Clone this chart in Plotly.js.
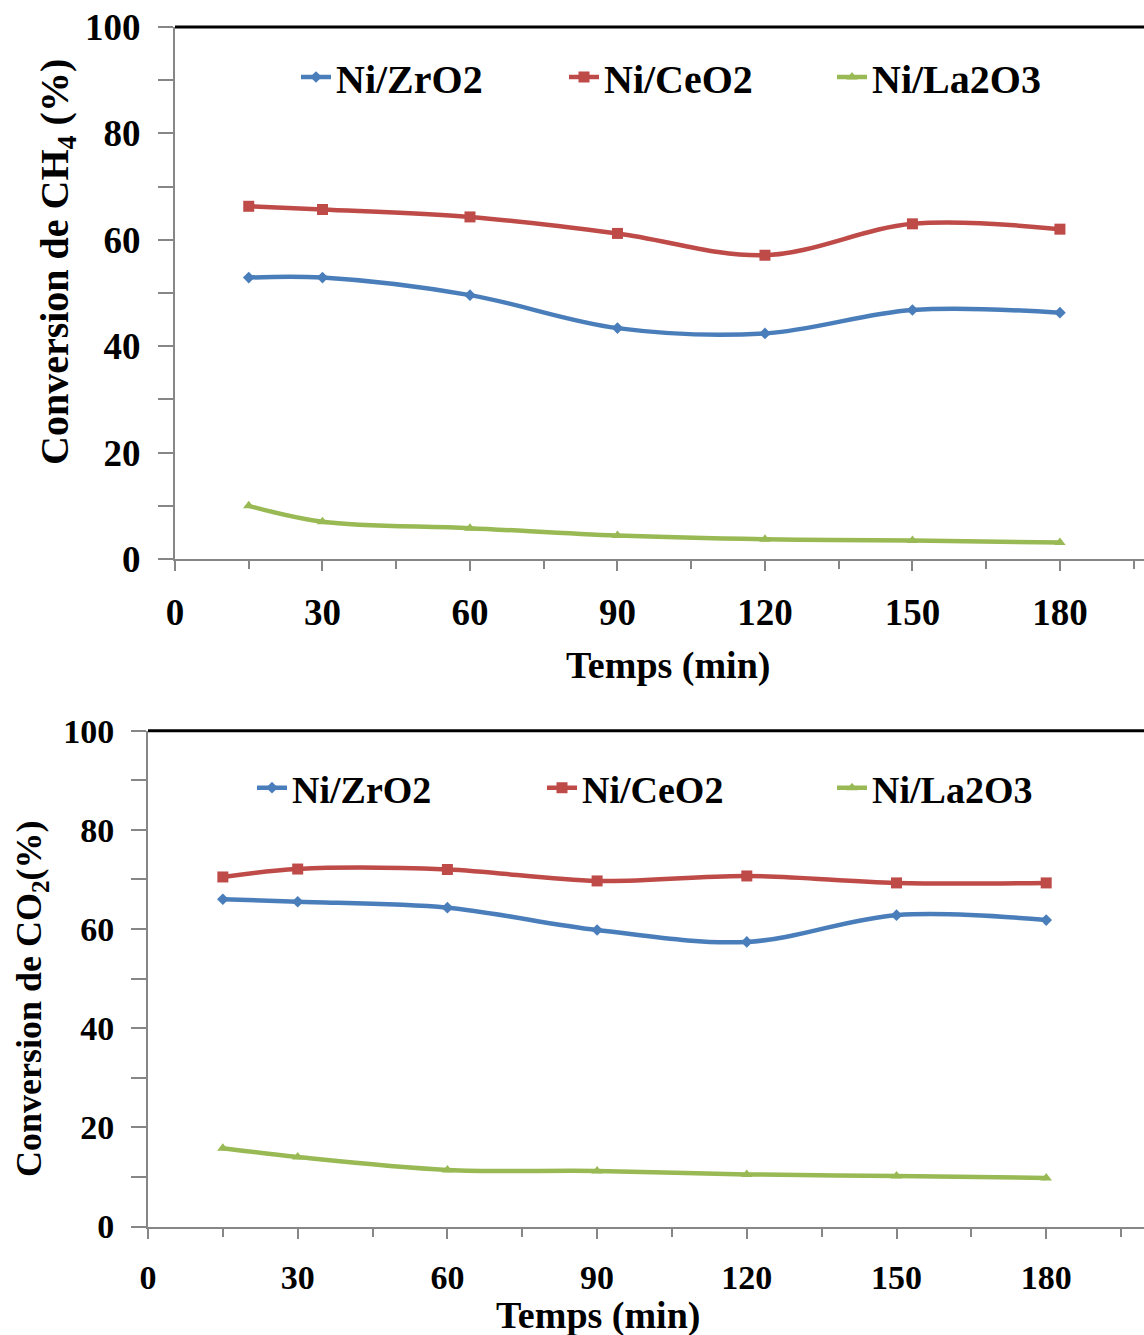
<!DOCTYPE html>
<html>
<head>
<meta charset="utf-8">
<script src="https://cdn.plot.ly/plotly-3.0.1.min.js"></script>
<style>html,body{margin:0;padding:0;background:#fff;}#chart{width:1144px;height:1335px;}</style>
</head>
<body>
<div id="chart"></div>
<script>
// Data
var timeMin = [15, 30, 60, 90, 120, 150, 180];
var seriesNames = ['Ni/ZrO2', 'Ni/CeO2', 'Ni/La2O3'];
// CH4 conversion (%)
var ch4_ZrO2 = [52.9, 52.9, 49.6, 43.4, 42.4, 46.8, 46.3];
var ch4_CeO2 = [66.3, 65.7, 64.3, 61.2, 57.1, 63.0, 62.0];
var ch4_La2O3 = [10.0, 7.0, 5.8, 4.4, 3.7, 3.5, 3.1];
// CO2 conversion (%)
var co2_ZrO2 = [66.0, 65.5, 64.3, 59.8, 57.4, 62.8, 61.8];
var co2_CeO2 = [70.5, 72.1, 72.0, 69.7, 70.7, 69.3, 69.3];
var co2_La2O3 = [15.8, 14.0, 11.4, 11.2, 10.5, 10.2, 9.8];
var xTickVals = [0, 30, 60, 90, 120, 150, 180];
var yTickVals = [0, 20, 40, 60, 80, 100];
var xTitle = 'Temps (min)';
var yTitleCH4 = 'Conversion de CH<sub>4</sub> (%)';
var yTitleCO2 = 'Conversion de CO<sub>2</sub>(%)';

var colors = ['#4a7ebb', '#be4b48', '#98b954'];
var symbols = ['diamond', 'square', 'triangle-up'];
var msizes = [9, 11, 10];
var FONT = '"Liberation Serif", "Times New Roman", serif';

function mk(y, i, xa, ya, leg) {
  return {
    x: timeMin, y: y, name: seriesNames[i], type: 'scatter', mode: 'lines+markers',
    xaxis: xa, yaxis: ya, legend: leg,
    line: {color: colors[i], width: 4.5, shape: 'spline', smoothing: 1},
    marker: {color: colors[i], symbol: symbols[i], size: msizes[i]}
  };
}
var data = [
  mk(ch4_ZrO2, 0, 'x', 'y', 'legend'),
  mk(ch4_CeO2, 1, 'x', 'y', 'legend'),
  mk(ch4_La2O3, 2, 'x', 'y', 'legend'),
  mk(co2_ZrO2, 0, 'x2', 'y2', 'legend2'),
  mk(co2_CeO2, 1, 'x2', 'y2', 'legend2'),
  mk(co2_La2O3, 2, 'x2', 'y2', 'legend2')
];

var W = 1144, H = 1335;
function py(p) { return 1 - p / H; }
var grey = '#868686';
function bold(sz) { return {family: FONT, size: sz, color: '#000', weight: 'bold'}; }
function xax(domain, range, fs, standoff, anchor) {
  return {
    domain: domain, range: range, anchor: anchor,
    tickvals: xTickVals, ticks: 'outside', ticklen: 10, tickwidth: 2, tickcolor: grey,
    minor: {dtick: 15, tick0: 0, ticks: 'outside', ticklen: 8, tickwidth: 2, tickcolor: grey},
    showline: true, linecolor: grey, linewidth: 2, showgrid: false, zeroline: false,
    tickfont: bold(fs), ticklabelstandoff: standoff
  };
}
function yax(domain, fs, standoff, anchor) {
  return {
    domain: domain, range: [0, 100], tickvals: yTickVals, anchor: anchor,
    ticks: 'outside', ticklen: 15, tickwidth: 2, tickcolor: grey,
    minor: {dtick: 10, tick0: 0, ticks: 'outside', ticklen: 15, tickwidth: 2, tickcolor: grey},
    showline: true, linecolor: grey, linewidth: 2, showgrid: false, zeroline: false,
    tickfont: bold(fs), ticklabelstandoff: standoff
  };
}
function ann(text, xp, yp, fs, angle) {
  return {text: text, xref: 'paper', yref: 'paper', x: xp / W, y: py(yp),
    xanchor: 'center', yanchor: 'middle', showarrow: false, textangle: angle || 0, font: bold(fs)};
}

var layout = {
  width: W, height: H,
  margin: {l: 0, r: 0, t: 0, b: 0},
  paper_bgcolor: '#fff', plot_bgcolor: '#fff',
  showlegend: true,
  xaxis: xax([175 / W, 1], [0, 197.1], 37, 10, 'y'),
  yaxis: yax([py(559), py(27)], 37, 10, 'x'),
  xaxis2: xax([148 / W, 1], [0, 199.6], 34, 10, 'y2'),
  yaxis2: yax([py(1226.5), py(730.7)], 34, 10, 'x2'),
  legend: {
    orientation: 'h', x: 296 / W, y: py(77), xanchor: 'left', yanchor: 'middle',
    font: bold(40), bgcolor: 'rgba(0,0,0,0)', entrywidth: 223, entrywidthmode: 'pixels'
  },
  legend2: {
    orientation: 'h', x: 252 / W, y: py(788), xanchor: 'left', yanchor: 'middle',
    font: bold(38), bgcolor: 'rgba(0,0,0,0)', entrywidth: 245, entrywidthmode: 'pixels'
  },
  annotations: [
    ann(yTitleCH4, 57, 262, 40, -90),
    ann(xTitle, 668, 665, 38),
    ann(yTitleCO2, 31, 999, 36, -90),
    ann(xTitle, 598, 1315, 38)
  ],
  shapes: [
    {type: 'line', xref: 'x domain', yref: 'y domain', x0: 0, x1: 1, y0: 1, y1: 1, line: {color: '#000', width: 3}},
    {type: 'line', xref: 'x2 domain', yref: 'y2 domain', x0: 0, x1: 1, y0: 1, y1: 1, line: {color: '#000', width: 3}}
  ]
};

Plotly.newPlot('chart', data, layout, {displayModeBar: false, staticPlot: true});
</script>
</body>
</html>
